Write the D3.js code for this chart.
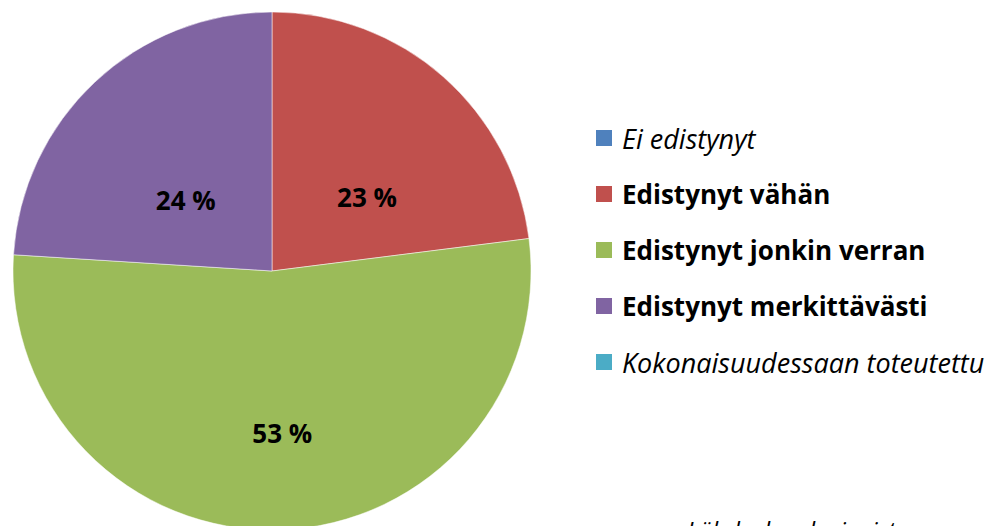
<!DOCTYPE html>
<html>
<head>
<meta charset="utf-8">
<script src="https://cdn.jsdelivr.net/npm/d3@7"></script>
<style>
  body { margin: 0; background: #fff; }
  svg { display: block; font-family: "Open Sans", Lato, sans-serif; }
</style>
</head>
<body>
<div id="chart"></div>
<script>
const categories = ["Ei edistynyt", "Edistynyt vähän", "Edistynyt jonkin verran", "Edistynyt merkittävästi", "Kokonaisuudessaan toteutettu"];
const values = [0, 23, 53, 24, 0];
const colors = ["#4F81BD", "#C0504D", "#9BBB59", "#8064A2", "#4BACC6"];
const boldLegend = [false, true, true, true, false];
const source = "Lähde: kyselyaineisto";

const width = 986, height = 526;
const cx = 272, cy = 271, radius = 259;

const svg = d3.select("#chart").append("svg")
  .attr("width", width).attr("height", height);

const data = categories.map((c, i) => ({ name: c, value: values[i], color: colors[i], bold: boldLegend[i] }));

const pie = d3.pie().sort(null).value(d => d.value);
const arc = d3.arc().innerRadius(0).outerRadius(radius);
const labelArc = d3.arc().innerRadius(radius * 0.52).outerRadius(radius * 0.52);

const g = svg.append("g").attr("transform", `translate(${cx},${cy})`);
const arcs = pie(data).filter(d => d.data.value > 0);

g.selectAll("path")
  .data(arcs)
  .join("path")
  .attr("d", arc)
  .attr("fill", d => d.data.color)
  .attr("stroke", "rgba(255,255,255,0.5)")
  .attr("stroke-width", 1);

// labels sit a bit lower than the centroid, like the original
g.selectAll("text")
  .data(arcs)
  .join("text")
  .attr("transform", d => {
    const [x, y] = labelArc.centroid(d);
    return `translate(${x + 6},${y + 27})`;
  })
  .attr("text-anchor", "middle")
  .attr("dominant-baseline", "central")
  .attr("font-size", 26)
  .attr("font-weight", "bold")
  .attr("fill", "#000")
  .text(d => `${d.data.value} %`);

// legend
const legend = svg.append("g").attr("transform", "translate(596,138)");
const item = legend.selectAll("g")
  .data(data)
  .join("g")
  .attr("transform", (d, i) => `translate(0,${i * 56})`);

item.append("rect")
  .attr("x", 0).attr("y", -8)
  .attr("width", 16).attr("height", 16)
  .attr("fill", d => d.color);

item.append("text")
  .attr("x", 26).attr("y", 0)
  .attr("dominant-baseline", "central")
  .attr("font-size", d => d.bold ? 26 : 27)
  .attr("font-weight", d => d.bold ? "bold" : "normal")
  .attr("font-style", d => d.bold ? "normal" : "italic")
  .attr("fill", "#000")
  .text(d => d.name);

svg.append("text")
  .attr("x", 687).attr("y", 539)
  .attr("font-size", 24)
  .attr("font-style", "italic")
  .attr("fill", "#000")
  .text(source);
</script>
</body>
</html>
